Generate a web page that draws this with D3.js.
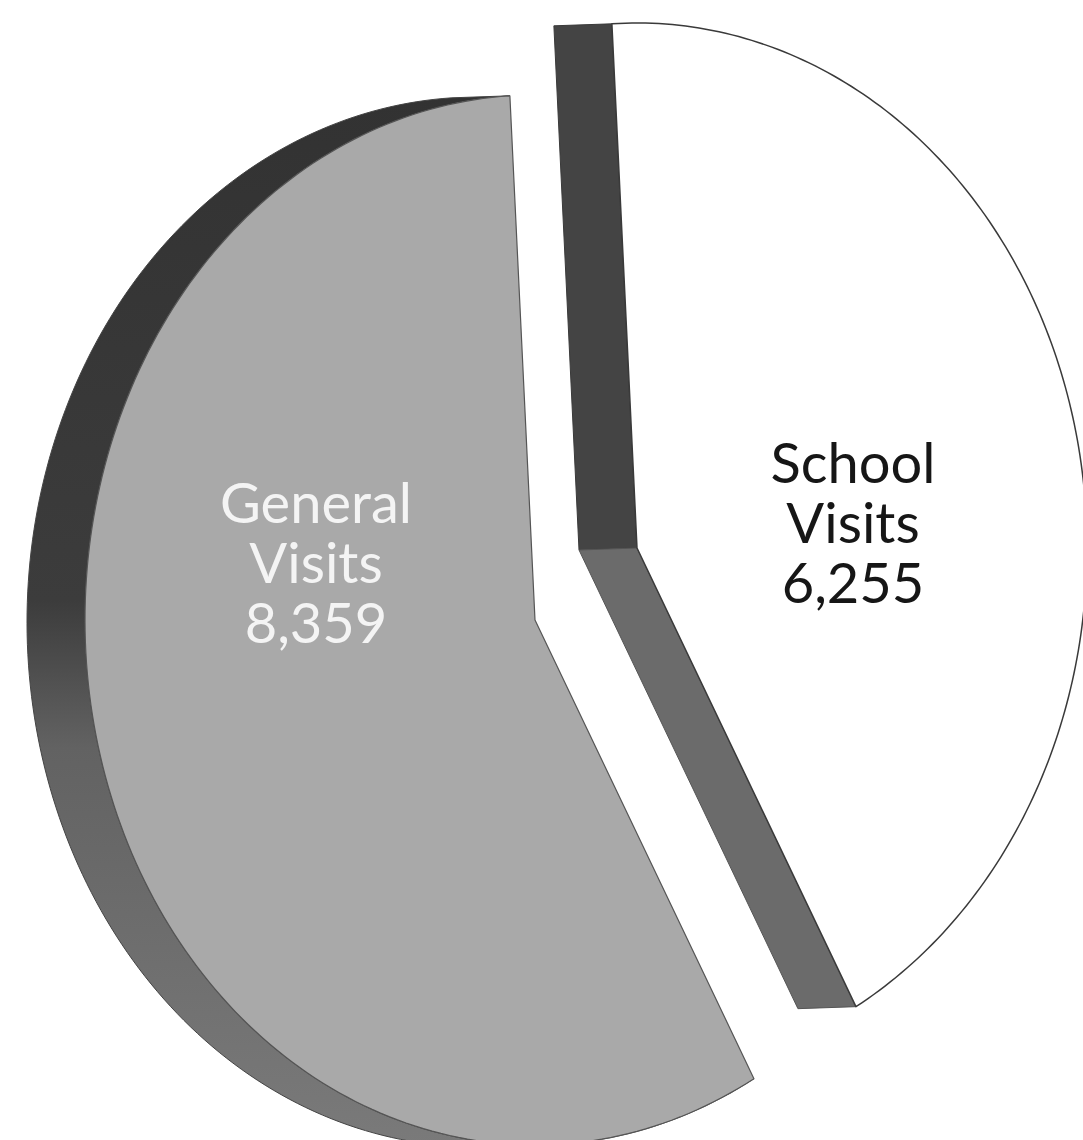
<!DOCTYPE html>
<html>
<head>
<meta charset="utf-8">
<script src="https://cdn.jsdelivr.net/npm/d3@7"></script>
<style>
  html, body { margin: 0; padding: 0; background: #ffffff; }
  svg { display: block; }
</style>
</head>
<body>
<svg id="chart" width="1083" height="1140"></svg>
<script>
// ---- data ----
const categories = ["School", "General"];
const values = [6255, 8359];
const valueLabels = ["6,255", "8,359"];
const secondLine = ["Visits", "Visits"];

// ---- layout ----
const W = 1083, H = 1140;
const rx = 450, ry = 525;               // ellipse radii of the top face
const depth = { x: -58, y: 2 };           // extrusion of the pie body
const centers = [ { x: 637, y: 548 }, { x: 535, y: 620 } ]; // School exploded
const startDeg = -3.2;

const svg = d3.select("#chart");
const defs = svg.append("defs");
const grad = defs.append("linearGradient").attr("id", "sideGrad")
  .attr("x1", 0).attr("y1", 0).attr("x2", 0).attr("y2", 1);
grad.append("stop").attr("offset", "0%").attr("stop-color", "#323232");
grad.append("stop").attr("offset", "48%").attr("stop-color", "#3c3c3c");
grad.append("stop").attr("offset", "62%").attr("stop-color", "#626262");
grad.append("stop").attr("offset", "100%").attr("stop-color", "#7a7a7a");

const a0 = startDeg * Math.PI / 180;
const pie = d3.pie().sort(null).value(d => d).startAngle(a0).endAngle(a0 + 2 * Math.PI);
const arcs = pie(values);

const pt = (c, a) => [c.x + rx * Math.sin(a), c.y - ry * Math.cos(a)];
const shift = p => [p[0] + depth.x, p[1] + depth.y];
const arcPts = (c, s, e) => d3.range(0, 181).map(i => pt(c, s + (e - s) * i / 180));
const line = d3.line();
const closed = pts => line(pts) + "Z";

// ---- side bodies ----
arcs.forEach((d, i) => {
  const c = centers[i];
  if (i === 1) {
    // outer curved side of General
    const front = arcPts(c, d.startAngle, d.endAngle);
    const back = front.map(shift).reverse();
    svg.append("path").attr("d", closed(front.concat(back)))
      .attr("fill", "url(#sideGrad)").attr("stroke", "#444").attr("stroke-width", 1);
  } else {
    // cut faces of School
    const S = pt(c, d.startAngle), E = pt(c, d.endAngle);
    const V = [c.x, c.y];
    svg.append("path").attr("d", closed([V, S, shift(S), shift(V)]))
      .attr("fill", "#444444").attr("stroke", "#3a3a3a").attr("stroke-width", 1);
    svg.append("path").attr("d", closed([V, E, shift(E), shift(V)]))
      .attr("fill", "#6b6b6b").attr("stroke", "#555").attr("stroke-width", 1);
  }
});

// ---- top faces ----
const faceFill = ["#ffffff", "#a9a9a9"];
arcs.forEach((d, i) => {
  const c = centers[i];
  const pts = [[c.x, c.y]].concat(arcPts(c, d.startAngle, d.endAngle));
  svg.append("path").attr("d", closed(pts))
    .attr("fill", faceFill[i])
    .attr("stroke", i === 0 ? "#3a3a3a" : "#555")
    .attr("stroke-width", i === 0 ? 1.5 : 1.2)
    .attr("stroke-linejoin", "round");
});

// ---- labels ----
const labelPos = [ { x: 853, y: 483 }, { x: 316, y: 523 } ];
const labelFill = ["#161616", "#f4f4f4"];
arcs.forEach((d, i) => {
  const t = svg.append("text")
    .attr("x", labelPos[i].x).attr("y", labelPos[i].y)
    .attr("text-anchor", "middle")
    .attr("font-family", "Lato, 'Open Sans', sans-serif")
    .attr("font-size", 56)
    .attr("fill", labelFill[i]);
  [categories[i], secondLine[i], valueLabels[i]].forEach((s, k) => {
    t.append("tspan").attr("x", labelPos[i].x).attr("dy", k === 0 ? 0 : 60).text(s);
  });
});
</script>
</body>
</html>
